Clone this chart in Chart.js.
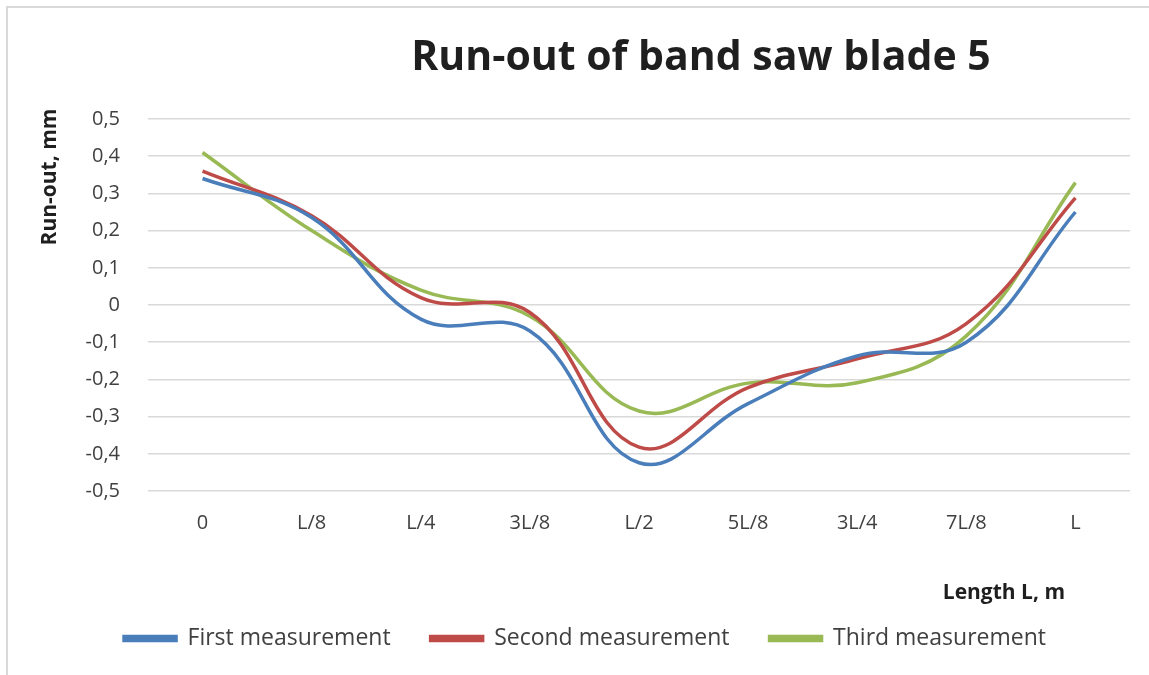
<!DOCTYPE html>
<html>
<head>
<meta charset="utf-8">
<script src="https://cdn.jsdelivr.net/npm/chart.js@4.4.0/dist/chart.umd.min.js"></script>
<style>
  html, body { margin: 0; padding: 0; background: #fff; }
  #wrap { position: relative; width: 1149px; height: 675px; }
</style>
</head>
<body>
<div id="wrap"><canvas id="runoutChart" width="1149" height="675"></canvas></div>
<script>
const categories = ["0", "L/8", "L/4", "3L/8", "L/2", "5L/8", "3L/4", "7L/8", "L"];
const firstMeasurement = [0.34, 0.235, -0.038, -0.07, -0.424, -0.265, -0.137, -0.10, 0.25];
const secondMeasurement = [0.36, 0.24, 0.02, -0.02, -0.382, -0.222, -0.145, -0.05, 0.288];
const thirdMeasurement = [0.41, 0.2, 0.04, -0.03, -0.285, -0.21, -0.209, -0.083, 0.329];
const yTicks = [0.5, 0.4, 0.3, 0.2, 0.1, 0, -0.1, -0.2, -0.3, -0.4, -0.5];

const FONT = "'Open Sans', Lato, sans-serif";
const TEXT = "#404040";

// chart title, axis titles and outer frame
const decorations = {
  id: "decorations",
  afterDraw(chart) {
    const ctx = chart.ctx;
    ctx.save();
    ctx.strokeStyle = "#d9d9d9";
    ctx.lineWidth = 2;
    ctx.strokeRect(7, 7, 1160, 700);

    ctx.fillStyle = "#1f1f1f";
    ctx.font = "bold 41px " + FONT;
    ctx.textAlign = "center";
    ctx.textBaseline = "middle";
    ctx.fillText("Run-out of band saw blade 5", 701, 58);

    ctx.font = "bold 21px " + FONT;
    ctx.textAlign = "right";
    ctx.fillText("Length L, m", 1065, 593);

    ctx.translate(50, 177);
    ctx.rotate(-Math.PI / 2);
    ctx.textAlign = "center";
    ctx.fillText("Run-out, mm", 0, 0);
    ctx.restore();
  }
};

const ctx = document.getElementById("runoutChart").getContext("2d");
new Chart(ctx, {
  type: "line",
  data: {
    labels: categories,
    datasets: [
      { label: "First measurement", data: firstMeasurement, borderColor: "#4a7ebb", backgroundColor: "#4a7ebb" },
      { label: "Second measurement", data: secondMeasurement, borderColor: "#be4b48", backgroundColor: "#be4b48" },
      { label: "Third measurement", data: thirdMeasurement, borderColor: "#98b954", backgroundColor: "#98b954" }
    ].map(d => Object.assign(d, { borderWidth: 3.5, pointRadius: 0, tension: 0.4, fill: false }))
  },
  options: {
    responsive: false,
    animation: false,
    layout: { padding: { left: 40, right: 19, top: 119, bottom: 15 } },
    plugins: {
      title: { display: false },
      tooltip: { enabled: false },
      legend: {
        position: "bottom",
        labels: {
          color: TEXT,
          font: { family: FONT, size: 23 },
          boxWidth: 52,
          boxHeight: 4,
          padding: 40
        }
      }
    },
    scales: {
      x: {
        offset: true,
        grid: { display: false, drawTicks: false },
        border: { display: false },
        ticks: { color: TEXT, font: { family: FONT, size: 20 }, padding: 20, maxRotation: 0 },
        afterFit: s => { s.height = 96; }
      },
      y: {
        min: -0.5,
        max: 0.5,
        afterBuildTicks: s => { s.ticks = yTicks.map(v => ({ value: v })); },
        grid: { color: "#d9d9d9", lineWidth: 1.5, drawTicks: false },
        border: { display: false },
        ticks: {
          color: TEXT,
          font: { family: FONT, size: 20 },
          padding: 28,
          callback: v => v === 0 ? "0" : v.toFixed(1).replace(".", ",")
        },
        afterFit: s => { s.width = 108; }
      }
    }
  },
  plugins: [decorations]
});
</script>
</body>
</html>
